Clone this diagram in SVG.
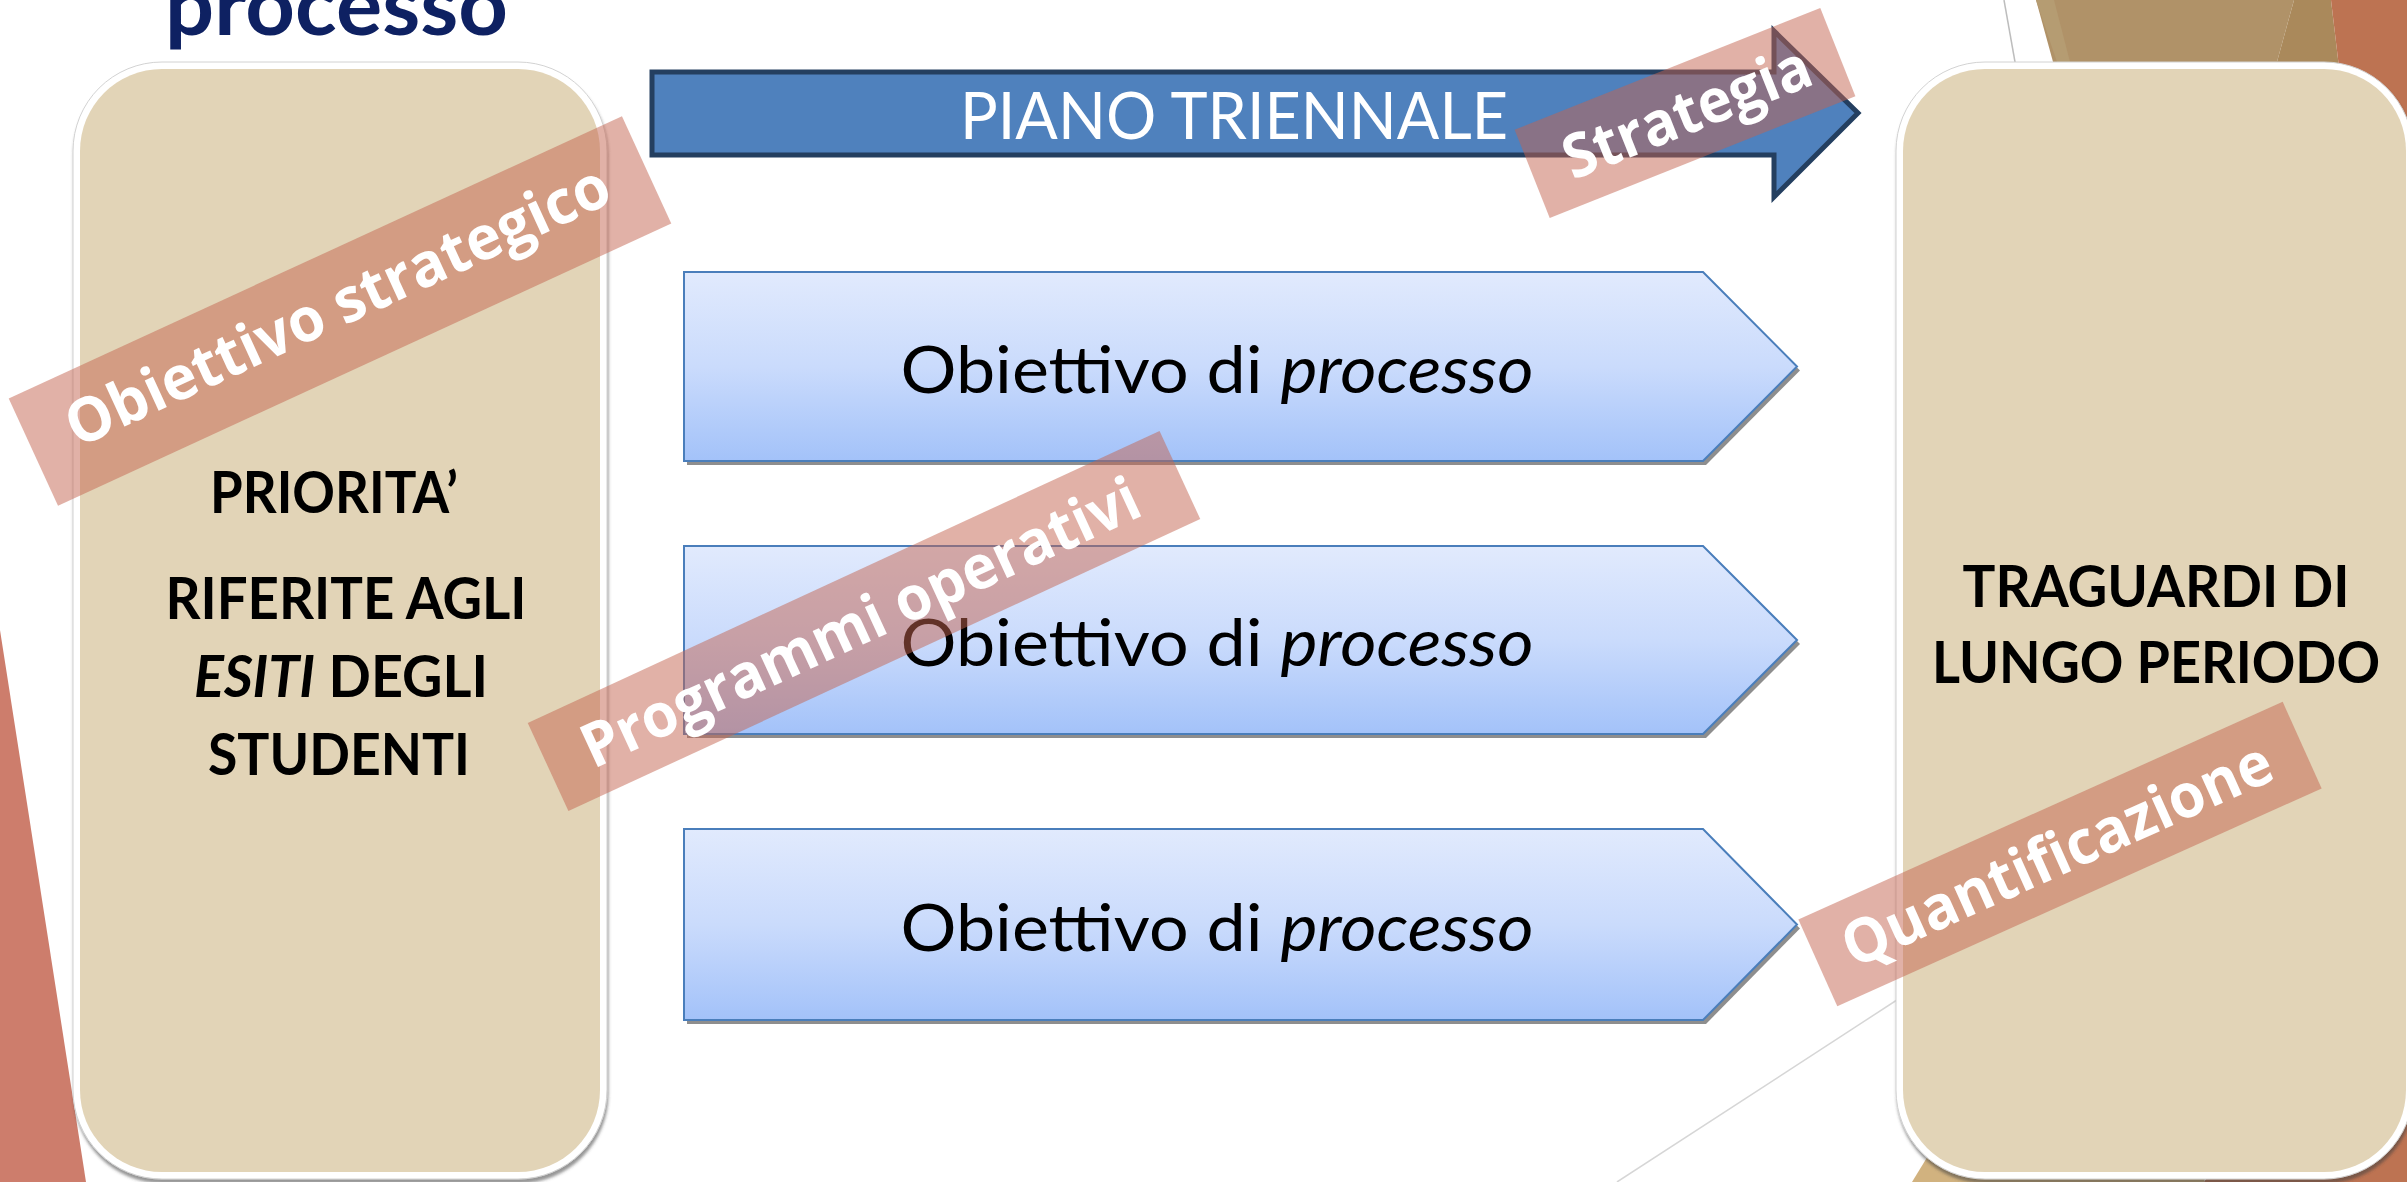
<svg xmlns="http://www.w3.org/2000/svg" width="2407" height="1182" viewBox="0 0 2407 1182">
<style>
.cal{font-family:Lato,"Open Sans","Liberation Sans",sans-serif}
.boxfill{fill:#E2D4B7}
.boxrim{fill:#FFFFFF;stroke:#D2D2D2;stroke-width:1}
.boxtxt{font-family:Lato,"Open Sans","Liberation Sans",sans-serif;font-weight:700;font-size:57px;fill:#000000;text-anchor:middle}
.proc{fill:url(#pg);stroke:#4A7EBB;stroke-width:2}
.procsh{fill:#8E8E8E}
.proctxt{font-family:Lato,"Open Sans","Liberation Sans",sans-serif;font-size:66px;fill:#000000;text-anchor:middle}
.band{fill:#C3634F;fill-opacity:0.5}
.stamp{font-family:"Open Sans","Noto Sans","Liberation Sans",sans-serif;font-weight:700;font-size:61px;fill:#FFFFFF;text-anchor:middle}
</style>
<defs>
<linearGradient id="pg" x1="0" y1="0" x2="0" y2="1">
<stop offset="0" stop-color="#E1EAFD"/>
<stop offset="0.5" stop-color="#CADBFC"/>
<stop offset="1" stop-color="#A3C2F9"/>
</linearGradient>
<filter id="sh" x="-5%" y="-5%" width="110%" height="110%">
<feDropShadow dx="1" dy="4" stdDeviation="1.5" flood-color="#404040" flood-opacity="0.55"/>
</filter>
</defs>

<g id="background">
<rect x="0" y="0" width="2407" height="1182" fill="#FFFFFF"/>
<polygon points="0,630 86,1182 0,1182" fill="#CD7D6C"/>
<polygon points="2036,0 2294,0 2250,160 2080,160" fill="#B09268"/>
<polygon points="2036,0 2054,0 2070,62 2057,62" fill="#B59C72"/>
<polygon points="2294,0 2331,0 2350,160 2250,160" fill="#AA895B"/>
<polygon points="2331,0 2407,0 2407,1182 2204,1182 2330,1000 2350,160" fill="#BD7352"/>
<polygon points="1912,1182 1950,1120 2220,1120 2204,1182" fill="#D1B27F"/>
<line x1="2004" y1="0" x2="2020" y2="90" stroke="#BDBDBD" stroke-width="1.5"/>
<line x1="1617" y1="1182" x2="1900" y2="998" stroke="#D6D6D6" stroke-width="1.5"/>
</g>

<g id="title">
<text class="cal" x="165" y="35" font-size="84" font-weight="700" fill="#0E2162" textLength="343" lengthAdjust="spacingAndGlyphs">processo</text>
</g>

<g id="node-priorita">
<rect class="boxrim" x="73" y="62" width="534" height="1117" rx="89" ry="89" filter="url(#sh)"/>
<rect class="boxfill" x="80" y="69" width="520" height="1103" rx="82" ry="82"/>
<text class="boxtxt" x="334" y="513" textLength="248" lengthAdjust="spacingAndGlyphs">PRIORITA’</text>
<text class="boxtxt" x="346" y="619" textLength="361" lengthAdjust="spacingAndGlyphs">RIFERITE AGLI</text>
<text class="boxtxt" x="341" y="697" textLength="294" lengthAdjust="spacingAndGlyphs"><tspan font-style="italic">ESITI</tspan> DEGLI</text>
<text class="boxtxt" x="339" y="775" textLength="262" lengthAdjust="spacingAndGlyphs">STUDENTI</text>
</g>

<g id="node-traguardi">
<rect class="boxrim" x="1896" y="62" width="517" height="1117" rx="89" ry="89" filter="url(#sh)"/>
<rect class="boxfill" x="1903" y="69" width="503" height="1103" rx="82" ry="82"/>
<text class="boxtxt" x="2156" y="607" textLength="387" lengthAdjust="spacingAndGlyphs">TRAGUARDI DI</text>
<text class="boxtxt" x="2156" y="683" textLength="448" lengthAdjust="spacingAndGlyphs">LUNGO PERIODO</text>
</g>

<g id="node-piano">
<polygon points="652,72 1774,72 1774,31 1858,113 1774,197 1774,155 652,155" fill="#4F81BD" stroke="#243F60" stroke-width="5" stroke-linejoin="miter"/>
<text class="cal" x="1234" y="139" font-size="66" fill="#FFFFFF" text-anchor="middle" textLength="548" lengthAdjust="spacingAndGlyphs">PIANO TRIENNALE</text>
</g>

<g id="node-obiettivo-1">
<polygon class="procsh" points="687,276 1706,276 1800,370.5 1706,465 687,465"/>
<polygon class="proc" points="684,272 1703,272 1797,366.5 1703,461 684,461"/>
<text class="proctxt" x="1217" y="393" textLength="633" lengthAdjust="spacingAndGlyphs">Obiettivo di <tspan font-style="italic">processo</tspan></text>
</g>

<g id="node-obiettivo-2">
<polygon class="procsh" points="687,550 1706,550 1800,644 1706,738 687,738"/>
<polygon class="proc" points="684,546 1703,546 1797,640 1703,734 684,734"/>
<text class="proctxt" x="1217" y="666" textLength="633" lengthAdjust="spacingAndGlyphs">Obiettivo di <tspan font-style="italic">processo</tspan></text>
</g>

<g id="node-obiettivo-3">
<polygon class="procsh" points="687,833 1706,833 1800,928.5 1706,1024 687,1024"/>
<polygon class="proc" points="684,829 1703,829 1797,924.5 1703,1020 684,1020"/>
<text class="proctxt" x="1217" y="951" textLength="633" lengthAdjust="spacingAndGlyphs">Obiettivo di <tspan font-style="italic">processo</tspan></text>
</g>

<g id="connectors"></g>

<g id="label-obiettivo-strategico" transform="translate(340,311) rotate(-24.7)">
<rect class="band" x="-337.5" y="-59" width="675" height="118"/>
<text class="stamp" x="0" y="15" textLength="592" lengthAdjust="spacingAndGlyphs">Obiettivo strategico</text>
</g>
<g id="label-strategia" transform="translate(1685,113) rotate(-21.7)">
<rect class="band" x="-164.5" y="-47.5" width="329" height="95"/>
<text class="stamp" x="2" y="21" textLength="262" lengthAdjust="spacingAndGlyphs">Strategia</text>
</g>
<g id="label-programmi-operativi" transform="translate(864,621) rotate(-24.8)">
<rect class="band" x="-348" y="-48.5" width="696" height="97"/>
<text class="stamp" x="-4" y="21" textLength="608" lengthAdjust="spacingAndGlyphs">Programmi operativi</text>
</g>
<g id="label-quantificazione" transform="translate(2060,854) rotate(-24.2)">
<rect class="band" x="-265.5" y="-47.5" width="531" height="95"/>
<text class="stamp" x="-3" y="20" textLength="465" lengthAdjust="spacingAndGlyphs">Quantificazione</text>
</g>
</svg>
